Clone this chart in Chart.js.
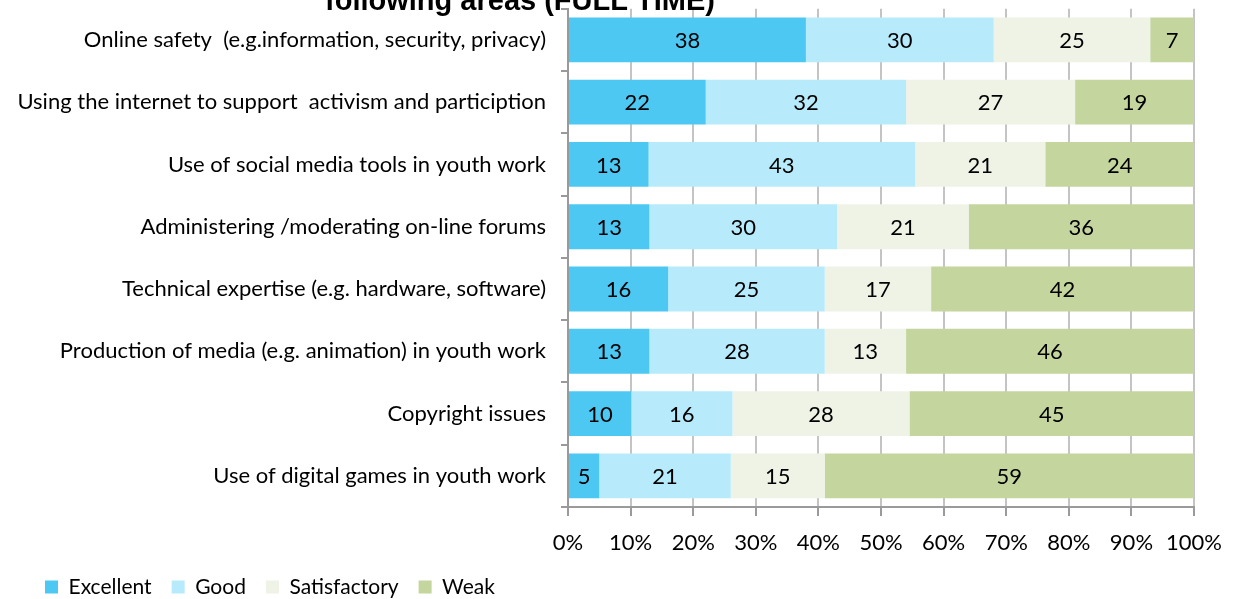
<!DOCTYPE html>
<html><head><meta charset="utf-8">
<script src="https://cdn.jsdelivr.net/npm/chart.js@4/dist/chart.umd.min.js"></script>
<style>html,body{margin:0;padding:0;background:#fff;overflow:hidden}#wrap{position:relative;width:1236px;height:599px}</style>
</head><body><div id="wrap"><canvas id="c" width="1236" height="599"></canvas></div>
<script>
const titleText = 'following areas (FULL TIME)';
const categories = [
  'Online safety  (e.g.information, security, privacy)',
  'Using the internet to support  activism and particiption',
  'Use of social media tools in youth work',
  'Administering /moderating on-line forums',
  'Technical expertise (e.g. hardware, software)',
  'Production of media (e.g. animation) in youth work',
  'Copyright issues',
  'Use of digital games in youth work'
];
const seriesNames = ['Excellent', 'Good', 'Satisfactory', 'Weak'];
const excellent    = [38, 22, 13, 13, 16, 13, 10, 5];
const good         = [30, 32, 43, 30, 25, 28, 16, 21];
const satisfactory = [25, 27, 21, 21, 17, 13, 28, 15];
const weak         = [7, 19, 24, 36, 42, 46, 45, 59];
const tickLabels = ['0%','10%','20%','30%','40%','50%','60%','70%','80%','90%','100%'];
const colors = ['#4DC8F2', '#B7EBFC', '#EEF3E6', '#C4D59E'];

const seriesValues = [excellent, good, satisfactory, weak];
const rowTotals = categories.map((_, i) => seriesValues.reduce((s, arr) => s + arr[i], 0));
const toShare = arr => arr.map((v, i) => v / rowTotals[i] * 100);

Chart.defaults.font.family = 'Lato';
Chart.defaults.color = '#000';

const valueLabels = {
  id: 'valueLabels',
  afterDatasetsDraw(chart) {
    const ctx = chart.ctx;
    ctx.save();
    ctx.font = '22px Lato';
    ctx.fillStyle = '#000';
    ctx.textAlign = 'center';
    ctx.textBaseline = 'middle';
    chart.data.datasets.forEach((ds, di) => {
      const meta = chart.getDatasetMeta(di);
      meta.data.forEach((bar, i) => {
        const p = bar.getProps(['x', 'y', 'base'], true);
        ctx.fillText(String(ds.rawValues[i]), (p.x + p.base) / 2, p.y + 1);
      });
    });
    ctx.restore();
  }
};

const cutTitle = {
  id: 'cutTitle',
  afterDraw(chart) {
    const ctx = chart.ctx;
    ctx.save();
    ctx.font = 'bold 29px "Liberation Sans"';
    ctx.fillStyle = '#000';
    ctx.textAlign = 'center';
    ctx.textBaseline = 'alphabetic';
    ctx.fillText(titleText, 520, 10);
    ctx.restore();
  }
};

const legendShift = {
  id: 'legendShift',
  afterLayout(chart) {
    if (chart.legend) chart.legend.left += 25;
  }
};

new Chart(document.getElementById('c'), {
  type: 'bar',
  data: {
    labels: categories,
    datasets: seriesNames.map((name, k) => ({
      label: name,
      data: toShare(seriesValues[k]),
      rawValues: seriesValues[k],
      backgroundColor: colors[k],
      borderWidth: 0,
      categoryPercentage: 0.72,
      barPercentage: 1
    }))
  },
  options: {
    indexAxis: 'y',
    responsive: false,
    animation: false,
    layout: { padding: { top: 8.7, left: 0, right: 41, bottom: -8.5 } },
    scales: {
      x: {
        stacked: true,
        min: 0, max: 100,
        z: 1,
        afterFit(scale) { scale.height = 49.5; },
        ticks: {
          stepSize: 10,
          padding: 14,
          font: { size: 22 },
          color: '#000',
          callback: (v) => tickLabels[Math.round(v / 10)]
        },
        grid: {
          color: 'rgba(125,125,125,0.45)',
          lineWidth: 2,
          drawTicks: true,
          tickLength: 9,
          tickColor: '#9a9a9a'
        },
        border: { display: true, color: '#9a9a9a', width: 2 }
      },
      y: {
        stacked: true,
        z: 1,
        afterFit(scale) {
          scale.width = 568;
          scale.paddingTop = 0;
          scale.paddingBottom = 0;
        },
        ticks: { padding: 15, font: { size: 22 }, color: '#000' },
        grid: {
          drawOnChartArea: false,
          drawTicks: true,
          tickLength: 7,
          color: '#9a9a9a',
          lineWidth: 2
        },
        border: { display: true, color: '#9a9a9a', width: 2 }
      }
    },
    plugins: {
      legend: {
        position: 'bottom',
        align: 'start',
        labels: {
          boxWidth: 13,
          boxHeight: 13,
          padding: 20,
          font: { size: 21 },
          color: '#000'
        }
      },
      tooltip: { enabled: false },
      title: { display: false }
    }
  },
  plugins: [valueLabels, cutTitle, legendShift]
});
</script>
</body></html>
